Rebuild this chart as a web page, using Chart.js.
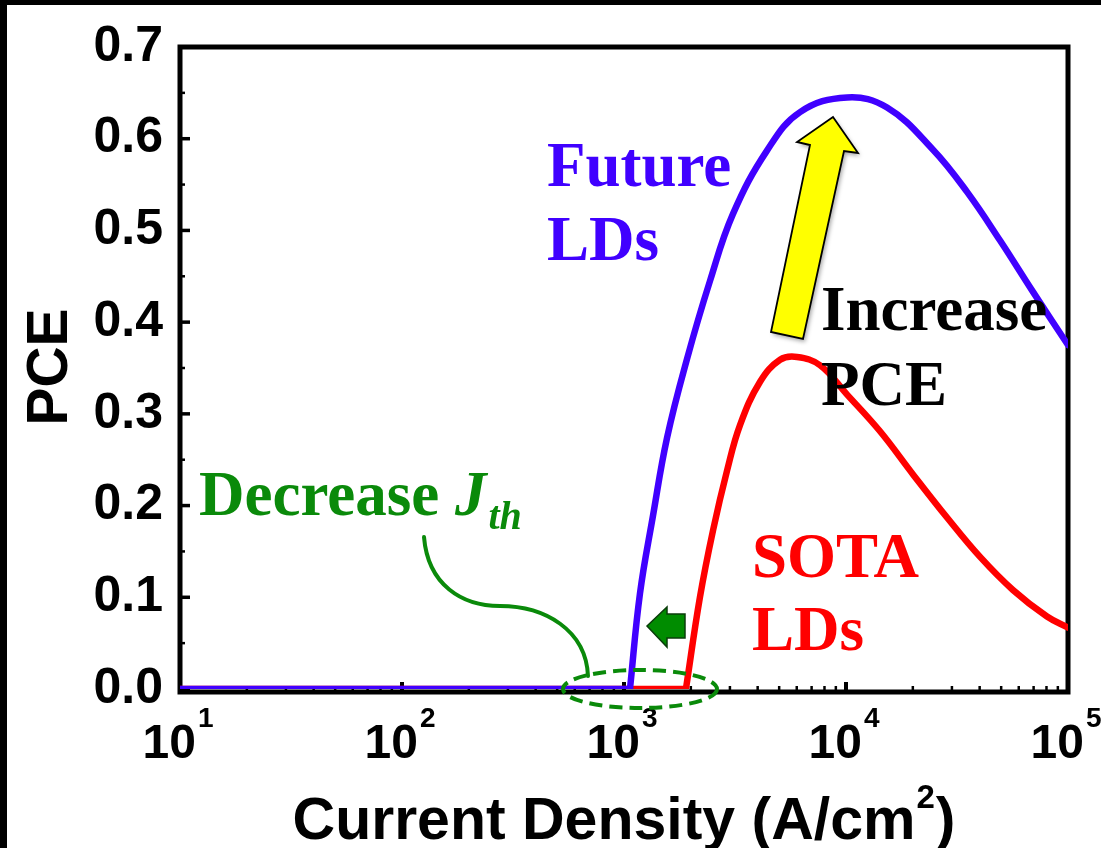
<!DOCTYPE html>
<html><head><meta charset="utf-8">
<script src="https://cdn.jsdelivr.net/npm/chart.js@4.4.1/dist/chart.umd.min.js"></script>
<style>html,body{margin:0;padding:0;background:#fff;overflow:hidden}</style>
</head><body>
<canvas id="c" width="1101" height="848" style="display:block;width:1101px;height:848px"></canvas>
<script>
// ---- data ----
const futureJ   = [10, 1064, 1180, 1351, 1563, 1923, 2440, 3097, 4406, 6209, 10113, 15310, 24660, 35090, 49430, 69560, 100000];
const futurePCE = [0, 0, 0.104, 0.189, 0.274, 0.360, 0.445, 0.518, 0.587, 0.629, 0.645, 0.634, 0.588, 0.542, 0.489, 0.433, 0.375];
const sotaJ     = [10, 1901, 2198, 2518, 2911, 3334, 4102, 5047, 6016, 7638, 10113, 14230, 20040, 28510, 40180, 56490, 80420, 100000];
const sotaPCE   = [0, 0, 0.100, 0.173, 0.238, 0.288, 0.335, 0.359, 0.362, 0.353, 0.321, 0.281, 0.234, 0.187, 0.144, 0.108, 0.079, 0.067];
const yTickValues = [0, 0.1, 0.2, 0.3, 0.4, 0.5, 0.6, 0.7];
const yMinorValues = [0.05, 0.15, 0.25, 0.35, 0.45, 0.55, 0.65];
const xTickExponents = [1, 2, 3, 4, 5];
const xLabel = "Current Density (A/cm";
const xLabelSup = "2";
const xLabelEnd = ")";
const yLabel = "PCE";

const BLUE = '#4000ff', RED = '#ff0000', GREEN = '#0a8a0a';
const SANS = '"Liberation Sans", Arial, sans-serif';
const SERIF = '"Liberation Serif", "Times New Roman", serif';

function pts(xs, ys){ return xs.map((x,i)=>({x:x, y:ys[i]})); }
// the flat below-threshold part (first two points) and the lasing part (from the threshold on)
function flatPart(xs, ys){ return pts(xs.slice(0,2), ys.slice(0,2)); }
function curvePart(xs, ys){ return pts(xs.slice(1), ys.slice(1)); }

const decor = {
  id:'decor',
  beforeDraw(chart){
    const ctx = chart.ctx;
    ctx.save();
    ctx.fillStyle='#fff'; ctx.fillRect(0,0,chart.width,chart.height);
    ctx.fillStyle='#000'; ctx.fillRect(0,0,chart.width,5); ctx.fillRect(0,0,7,chart.height);
    ctx.restore();
  },
  beforeDatasetsDraw(chart){
    const ctx = chart.ctx, a = chart.chartArea, xs = chart.scales.x, ys = chart.scales.y;
    ctx.save();
    ctx.strokeStyle='#000'; ctx.lineWidth=5; ctx.lineJoin='miter';
    ctx.strokeRect(a.left, a.top, a.right-a.left, a.bottom+3-a.top);
    ctx.lineWidth=3.5;
    yTickValues.forEach(v=>{ const y=ys.getPixelForValue(v); ctx.beginPath(); ctx.moveTo(a.left, y); ctx.lineTo(a.left+10, y); ctx.stroke(); });
    ctx.lineWidth=2.5;
    yMinorValues.forEach(v=>{ const y=ys.getPixelForValue(v); ctx.beginPath(); ctx.moveTo(a.left, y); ctx.lineTo(a.left+5, y); ctx.stroke(); });
    const yb = a.bottom+3;
    xTickExponents.forEach((e,i)=>{
      const base = Math.pow(10,e);
      const x = xs.getPixelForValue(base);
      ctx.lineWidth=4; ctx.beginPath(); ctx.moveTo(x,yb); ctx.lineTo(x,yb-10); ctx.stroke();
      if (i < xTickExponents.length-1){
        for(let m=2;m<=9;m++){
          const xm = xs.getPixelForValue(m*base);
          ctx.lineWidth=2.5; ctx.beginPath(); ctx.moveTo(xm,yb); ctx.lineTo(xm,yb-6); ctx.stroke();
        }
      }
    });
    ctx.restore();
  },
  afterDatasetsDraw(chart){
    const ctx = chart.ctx, xs = chart.scales.x;
    ctx.save();
    ctx.fillStyle='#000'; ctx.textBaseline='alphabetic';
    xTickExponents.forEach(e=>{
      const x = xs.getPixelForValue(Math.pow(10,e));
      ctx.font = 'bold 48px '+SANS; const w1 = ctx.measureText('10').width;
      ctx.font = 'bold 28px '+SANS; const w2 = ctx.measureText(String(e)).width;
      const start = x - (w1+w2+2)/2 - 2;
      ctx.font = 'bold 48px '+SANS; ctx.textAlign='left'; ctx.fillText('10', start, 758);
      ctx.font = 'bold 28px '+SANS; ctx.fillText(String(e), start+w1+2, 727);
    });
    ctx.font='bold 59px '+SANS;
    const t1 = ctx.measureText(xLabel).width;
    ctx.font='bold 33px '+SANS; const t2 = ctx.measureText(xLabelSup).width;
    ctx.font='bold 59px '+SANS; const t3 = ctx.measureText(xLabelEnd).width;
    let sx = 624 - (t1+t2+t3+2)/2;
    ctx.fillText(xLabel, sx, 839);
    ctx.font='bold 33px '+SANS; ctx.fillText(xLabelSup, sx+t1+1, 808);
    ctx.font='bold 59px '+SANS; ctx.fillText(xLabelEnd, sx+t1+t2+2, 839);
    ctx.save(); ctx.translate(67, 367); ctx.rotate(-Math.PI/2);
    ctx.font='bold 57px '+SANS; ctx.textAlign='center'; ctx.fillText(yLabel, 0, 0);
    ctx.restore();

    ctx.textAlign='left';
    ctx.font='bold 63px '+SERIF;
    ctx.fillStyle=BLUE; ctx.fillText('Future', 547, 186); ctx.fillText('LDs', 547, 260);
    ctx.fillStyle='#000'; ctx.fillText('Increase', 821, 330); ctx.fillText('PCE', 821, 405);
    ctx.fillStyle=RED; ctx.fillText('SOTA', 752, 577); ctx.fillText('LDs', 752, 650);
    ctx.fillStyle=GREEN; ctx.fillText('Decrease ', 199, 515);
    const dw = ctx.measureText('Decrease ').width;
    ctx.font='italic bold 63px '+SERIF; ctx.fillText('J', 199+dw, 515);
    const jw = ctx.measureText('J').width;
    ctx.font='italic bold 40px '+SERIF; ctx.fillText('th', 199+dw+jw+2, 529);

    ctx.strokeStyle=GREEN; ctx.lineWidth=4; ctx.lineCap='round';
    ctx.beginPath(); ctx.moveTo(424,537);
    ctx.bezierCurveTo(428,585, 462,606, 500,606);
    ctx.bezierCurveTo(545,606, 586,630, 588,676);
    ctx.stroke();
    ctx.setLineDash([13,7]); ctx.lineCap='butt'; ctx.lineWidth=4;
    ctx.beginPath(); ctx.ellipse(640,689,77,19,0,0,Math.PI*2); ctx.stroke();
    ctx.setLineDash([]);
    ctx.fillStyle='#008c00'; ctx.strokeStyle='#0a3d0a'; ctx.lineWidth=1.5;
    ctx.beginPath();
    ctx.moveTo(647,626); ctx.lineTo(667,607); ctx.lineTo(667,614); ctx.lineTo(685,614);
    ctx.lineTo(685,638); ctx.lineTo(667,638); ctx.lineTo(667,647); ctx.closePath();
    ctx.fill(); ctx.stroke();
    ctx.save();
    ctx.shadowColor='rgba(0,0,0,0.35)'; ctx.shadowBlur=4; ctx.shadowOffsetX=2; ctx.shadowOffsetY=3;
    ctx.fillStyle='#ffff00'; ctx.strokeStyle='#000'; ctx.lineWidth=1.8; ctx.lineJoin='miter';
    ctx.beginPath();
    ctx.moveTo(833,117); ctx.lineTo(858,153); ctx.lineTo(844,151);
    ctx.lineTo(803,339); ctx.lineTo(771,332); ctx.lineTo(810,145); ctx.lineTo(797,142);
    ctx.closePath(); ctx.fill(); ctx.shadowColor='transparent'; ctx.stroke();
    ctx.restore();
    ctx.restore();
  }
};

const lineStyle = { borderWidth:6.5, pointRadius:0, fill:false, borderCapStyle:'round', borderJoinStyle:'round' };
new Chart(document.getElementById('c'), {
  type:'line',
  data:{ datasets:[
    Object.assign({ label:'Future LDs', data:curvePart(futureJ, futurePCE), borderColor:BLUE, tension:0.4, order:0 }, lineStyle),
    Object.assign({ label:'Future LDs (below threshold)', data:flatPart(futureJ, futurePCE), borderColor:BLUE, tension:0, order:0 }, lineStyle, {borderCapStyle:'butt'}),
    Object.assign({ label:'SOTA LDs', data:curvePart(sotaJ, sotaPCE), borderColor:RED, tension:0.4, order:1 }, lineStyle),
    Object.assign({ label:'SOTA LDs (below threshold)', data:flatPart(sotaJ, sotaPCE), borderColor:RED, tension:0, order:2 }, lineStyle, {borderCapStyle:'butt'})
  ]},
  options:{
    responsive:false, animation:false, devicePixelRatio:1,
    layout:{ padding:{ top:42, right:33, left:0, bottom:0 } },
    plugins:{ legend:{display:false}, tooltip:{enabled:false} },
    scales:{
      x:{ type:'logarithmic', min:10, max:100000,
          ticks:{display:false}, grid:{display:false, drawTicks:false}, border:{display:false},
          afterFit(s){ s.height = 848-689; } },
      y:{ type:'linear', min:0, max:0.7,
          afterBuildTicks(s){ s.ticks = yTickValues.map(v=>({value:v})); },
          ticks:{ autoSkip:false, padding:17, color:'#000', font:{family:'"Liberation Sans", Arial, sans-serif', weight:'bold', size:50},
                  callback:v=>Number(v).toFixed(1) },
          grid:{display:false, drawTicks:false}, border:{display:false},
          afterFit(s){ s.width = 180; } }
    }
  },
  plugins:[decor]
});
</script>
</body></html>
